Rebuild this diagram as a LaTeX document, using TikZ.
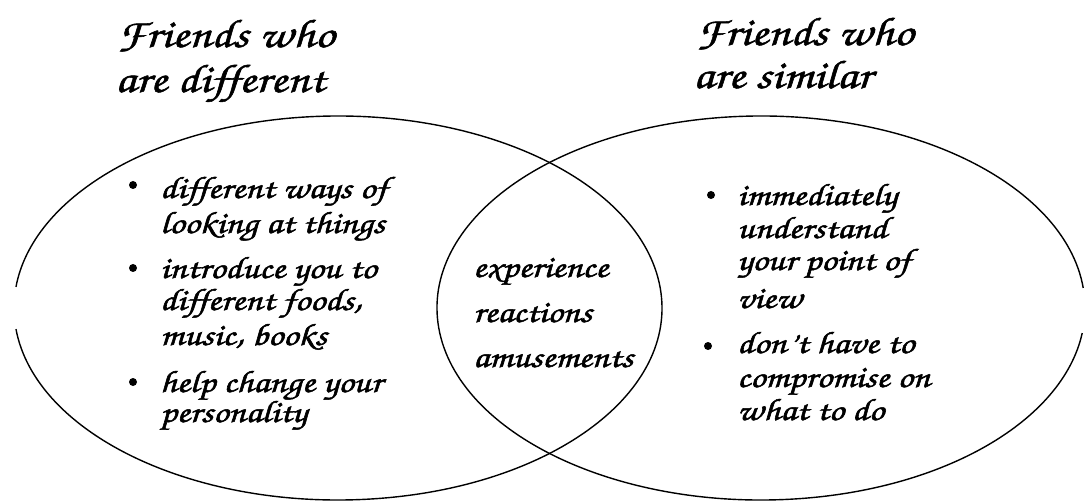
\documentclass[tikz,border=0pt]{standalone}
\usepackage[T1]{fontenc}
\usepackage{graphicx}
\newcommand{\chanc}{\fontencoding{T1}\fontfamily{pzc}\fontseries{m}\fontshape{it}}
\newcommand{\widetxt}[1]{\special{pdf:literal q 2 Tr 0.5 w}\scalebox{1.22}[1]{#1}\special{pdf:literal Q}}
\tikzset{
  x=1pt, y=1pt,
  venn/.style={line width=1.4pt, black},
  title/.style={anchor=base west, inner sep=0pt, font=\chanc\fontsize{40}{40}\selectfont},
  txt/.style={anchor=base west, inner sep=0pt, font=\chanc\fontsize{31}{31}\selectfont},
  dot/.style={circle, fill=black, inner sep=0pt, minimum size=8pt},
}
\begin{document}
\begin{tikzpicture}
\useasboundingbox (0,0) rectangle (1086,501);
\coordinate (cL) at (338,193);
\coordinate (cR) at (761,193);
% ellipses (with the small gaps of the original drawing)
\draw[venn] ([shift={(186.3:324pt and 192pt)}]cL) arc[start angle=186.3, end angle=533.7, x radius=324pt, y radius=192pt];
\draw[venn] ([shift={(6:324pt and 192pt)}]cR) arc[start angle=6, end angle=352.5, x radius=324pt, y radius=192pt];
% titles
\node[title] (tl1) at (117,454) {\widetxt{Friends who}};
\node[title] (tl2) at (115,409) {\widetxt{are different}};
\node[title] (tr1) at (696,456) {\widetxt{Friends who}};
\node[title] (tr2) at (693,413) {\widetxt{are similar}};
% left items
\node[dot] (bl1) at (133,316) {};
\node[dot] (bl2) at (133,233) {};
\node[dot] (bl3) at (133,119) {};
\node[txt] (l1) at (160,303) {\widetxt{different ways of}};
\node[txt] (l2) at (160,268) {\widetxt{looking at things}};
\node[txt] (l3) at (160,223) {\widetxt{introduce you to}};
\node[txt] (l4) at (160,191) {\widetxt{different foods,}};
\node[txt] (l5) at (160,156) {\widetxt{music, books}};
\node[txt] (l6) at (160,109) {\widetxt{help change your}};
\node[txt] (l7) at (160,79) {\widetxt{personality}};
% centre
\node[txt] (m1) at (473,224) {\widetxt{experience}};
\node[txt] (m2) at (473,179) {\widetxt{reactions}};
\node[txt] (m3) at (473,134) {\widetxt{amusements}};
% right items
\node[dot] (br1) at (711,306) {};
\node[dot] (br2) at (708,155) {};
\node[txt] (r1) at (737,296) {\widetxt{immediately}};
\node[txt] (r2) at (737,263) {\widetxt{understand}};
\node[txt] (r3) at (737,231) {\widetxt{your point of}};
\node[txt] (r4) at (737,193) {\widetxt{view}};
\node[txt] (r5) at (737,148) {\widetxt{don't have to}};
\node[txt] (r6) at (737,114) {\widetxt{compromise on}};
\node[txt] (r7) at (737,81) {\widetxt{what to do}};
\end{tikzpicture}
\end{document}
